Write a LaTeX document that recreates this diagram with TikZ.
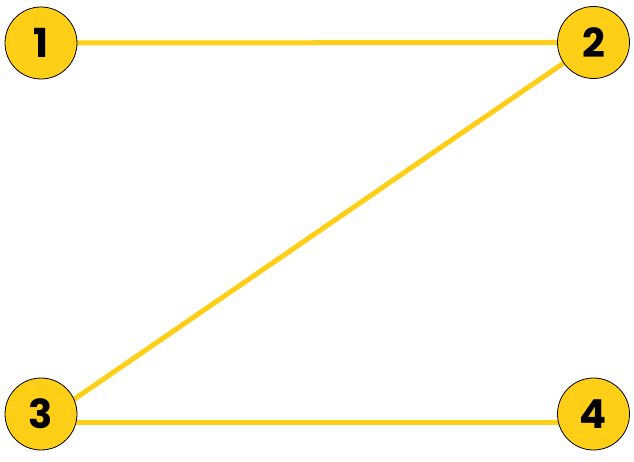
\documentclass[tikz,border=0pt]{standalone}
\usepackage{fontspec}
\usetikzlibrary{backgrounds}
\newfontfamily\numfont{Poppins}[UprightFont=* Bold]
\definecolor{nodeyellow}{RGB}{254,207,22}
\begin{document}
\begin{tikzpicture}[x=1pt,y=-1pt,
  vtx/.style={circle,draw=black,line width=0.8pt,fill=nodeyellow,minimum size=72pt,inner sep=0pt,font=\numfont\fontsize{40}{40}\selectfont},
  edge/.style={draw=nodeyellow,line width=5pt}]
\useasboundingbox (0,0) rectangle (634,462);
\node[vtx] (n1) at (41,43) {1};
\node[vtx] (n2) at (593.5,42.5) {2};
\node[vtx] (n3) at (41,414) {\raisebox{-2pt}{3}};
\node[vtx] (n4) at (593.5,414) {\raisebox{-2pt}{4}};
\begin{scope}[on background layer]
\draw[edge] (n1.center) -- (n2.center);
\draw[edge] (n2.center) -- ([yshift=-8pt]n3.center);
\draw[edge] ([yshift=-8pt]n3.center) -- ([yshift=-8pt]n4.center);
\end{scope}
\end{tikzpicture}
\end{document}
